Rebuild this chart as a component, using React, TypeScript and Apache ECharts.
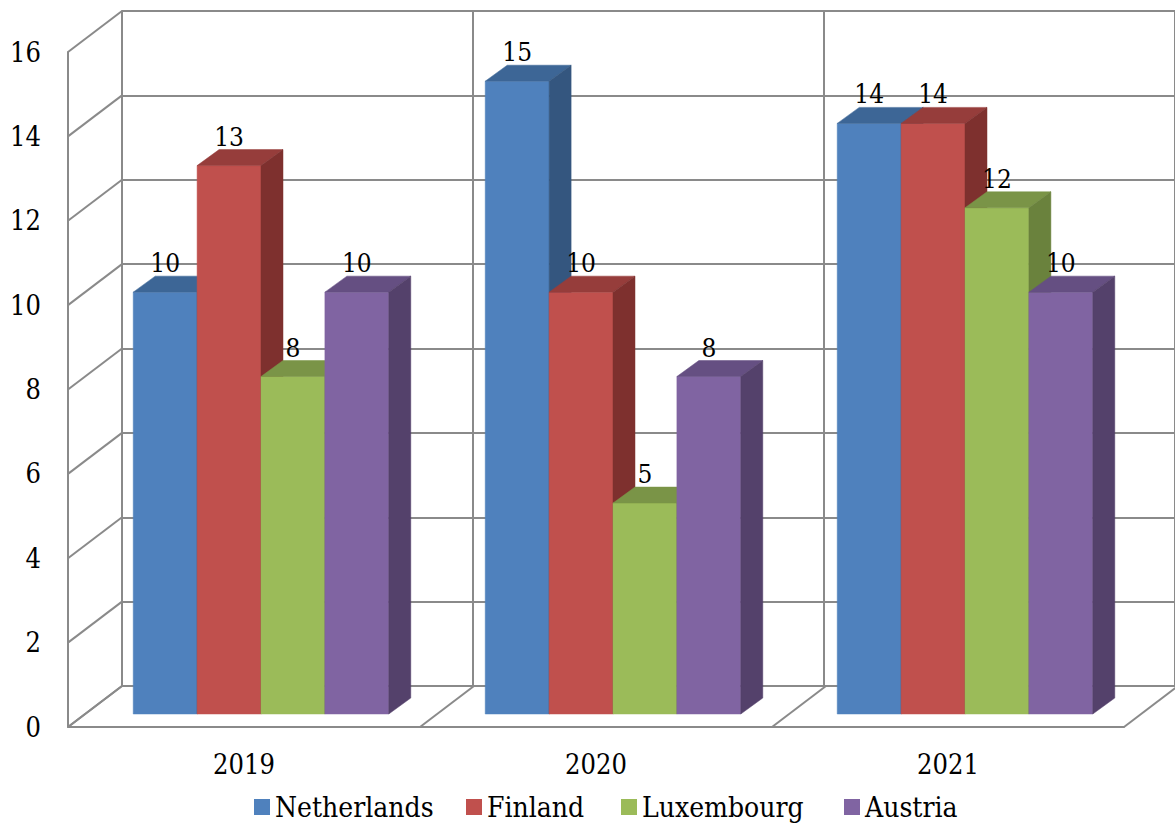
import React, { useEffect, useRef } from "react";
import * as echarts from "echarts";

// Chart data
const years = ["2019", "2020", "2021"];
const countries = ["Netherlands", "Finland", "Luxembourg", "Austria"];
const netherlands = [10, 15, 14];
const finland = [13, 10, 14];
const luxembourg = [8, 5, 12];
const austria = [10, 8, 10];
const yTicks = [0, 2, 4, 6, 8, 10, 12, 14, 16];

const seriesValues = [netherlands, finland, luxembourg, austria];

// Shading of the three visible faces of each column
const faceColors = [
  { front: "#4F81BD", top: "#3D6696", side: "#34567F" },
  { front: "#C0504D", top: "#963D3B", side: "#7E302E" },
  { front: "#9BBB59", top: "#7A9447", side: "#6A823D" },
  { front: "#8064A2", top: "#654F82", side: "#54416B" },
];

// Pseudo-3D geometry (pixel offsets for depth)
const WALL = { dx: 54, dy: -41 };
const BAR_OFFSET = { dx: 17, dy: -13 };
const BAR_DEPTH = { dx: 22, dy: -16 };
const BAR_BAND_RATIO = 0.1815;

const FONT = "DejaVu Serif Condensed, DejaVu Serif";
const LINE = "#8a8a8a";

const FRONT_GRID = { left: 68, right: 51, top: 52, bottom: 96 };
const LEGEND_LEFT = [254, 466, 621, 844];

export default function App() {
  const ref = useRef<HTMLDivElement>(null);

  useEffect(() => {
    if (!ref.current) return;
    const chart = echarts.init(ref.current, undefined, { renderer: "svg" });
    const lineStyle = { color: LINE, width: 2 };

    // One custom series per country: front, top and side faces plus the value label
    const barSeries = countries.map((name, s) => ({
      type: "custom",
      name,
      z: 2,
      data: seriesValues[s].map((v, i) => [i, v]),
      encode: { x: 0, y: 1 },
      itemStyle: { color: faceColors[s].front },
      renderItem: (params: any, api: any) => {
        const cat = api.value(0);
        const v = api.value(1);
        const base = api.coord([cat, 0]);
        const top = api.coord([cat, v]);
        const bandW = api.size([1, 0])[0];
        const w = bandW * BAR_BAND_RATIO;
        const x0 = base[0] + BAR_OFFSET.dx + (s - countries.length / 2) * w;
        const x1 = x0 + w;
        const yb = base[1] + BAR_OFFSET.dy;
        const yt = top[1] + BAR_OFFSET.dy;
        const dx = BAR_DEPTH.dx;
        const dy = BAR_DEPTH.dy;
        const c = faceColors[s];
        const zb = s * 10;
        return {
          type: "group",
          children: [
            {
              type: "polygon",
              z2: zb,
              shape: { points: [[x0, yb], [x1, yb], [x1, yt], [x0, yt]] },
              style: { fill: c.front, stroke: c.front, lineWidth: 0.5 },
            },
            {
              type: "polygon",
              z2: zb + 1,
              shape: { points: [[x0, yt], [x1, yt], [x1 + dx, yt + dy], [x0 + dx, yt + dy]] },
              style: { fill: c.top, stroke: c.top, lineWidth: 0.5 },
            },
            {
              type: "polygon",
              z2: zb + 1,
              shape: { points: [[x1, yb], [x1 + dx, yb + dy], [x1 + dx, yt + dy], [x1, yt]] },
              style: { fill: c.side, stroke: c.side, lineWidth: 0.5 },
            },
            {
              type: "text",
              z2: 1000,
              x: (x0 + x1) / 2,
              y: yt - 29,
              style: {
                text: String(v),
                fontFamily: FONT,
                fontSize: 26,
                fill: "#000",
                align: "center",
                verticalAlign: "middle",
              },
            },
          ],
        };
      },
    }));

    // Left side wall: diagonals from the front axis back to the rear wall
    const sideWall = {
      type: "custom",
      z: 1,
      silent: true,
      data: yTicks.map((v) => [0, v]),
      encode: { x: 0, y: 1 },
      renderItem: (params: any, api: any) => {
        const p = api.coord([0, api.value(1)]);
        const x = params.coordSys.x;
        return {
          type: "line",
          shape: { x1: x, y1: p[1], x2: x + WALL.dx, y2: p[1] + WALL.dy },
          style: { stroke: LINE, lineWidth: 2 },
        };
      },
    };

    // Floor: diagonals at category boundaries
    const floor = {
      type: "custom",
      z: 1,
      silent: true,
      data: years.map((_, i) => [i, 0]),
      encode: { x: 0, y: 1 },
      renderItem: (params: any, api: any) => {
        const i = api.value(0);
        const p = api.coord([i, 0]);
        const bandW = api.size([1, 0])[0];
        const xs = [p[0] - bandW / 2];
        if (i === years.length - 1) xs.push(p[0] + bandW / 2);
        return {
          type: "group",
          children: xs.map((x) => ({
            type: "line",
            shape: { x1: x, y1: p[1], x2: x + WALL.dx, y2: p[1] + WALL.dy },
            style: { stroke: LINE, lineWidth: 2 },
          })),
        };
      },
    };

    chart.setOption({
      animation: false,
      backgroundColor: "#ffffff",
      color: faceColors.map((c) => c.front),
      textStyle: { fontFamily: FONT },
      grid: [
        { ...FRONT_GRID },
        {
          left: FRONT_GRID.left + WALL.dx,
          right: FRONT_GRID.right - WALL.dx,
          top: FRONT_GRID.top + WALL.dy,
          bottom: FRONT_GRID.bottom - WALL.dy,
        },
      ],
      xAxis: [
        {
          type: "category",
          gridIndex: 0,
          data: years,
          axisLine: { show: true, lineStyle },
          axisTick: { show: false },
          splitLine: { show: false },
          axisLabel: { fontFamily: FONT, fontSize: 27, color: "#000", margin: 24 },
        },
        {
          type: "category",
          gridIndex: 1,
          data: years,
          axisLine: { show: false },
          axisTick: { show: false },
          axisLabel: { show: false },
          splitLine: { show: true, interval: 0, lineStyle },
        },
      ],
      yAxis: [
        {
          type: "value",
          gridIndex: 0,
          min: 0,
          max: 16,
          interval: 2,
          axisLine: { show: true, lineStyle },
          axisTick: { show: false },
          splitLine: { show: false },
          axisLabel: { fontFamily: FONT, fontSize: 27, color: "#000", margin: 27 },
        },
        {
          type: "value",
          gridIndex: 1,
          min: 0,
          max: 16,
          interval: 2,
          axisLine: { show: true, lineStyle },
          axisTick: { show: false },
          axisLabel: { show: false },
          splitLine: { show: true, lineStyle },
        },
      ],
      legend: countries.map((name, i) => ({
        data: [name],
        left: LEGEND_LEFT[i],
        top: 792,
        padding: 0,
        icon: "rect",
        itemWidth: 16,
        itemHeight: 16,
        textStyle: { fontFamily: FONT, fontSize: 28, lineHeight: 30, color: "#000" },
      })),
      series: [sideWall, floor, ...barSeries],
    });

    return () => chart.dispose();
  }, []);

  return (
    <div
      ref={ref}
      style={{ position: "absolute", left: 0, top: 0, width: 1175, height: 823 }}
    />
  );
}
